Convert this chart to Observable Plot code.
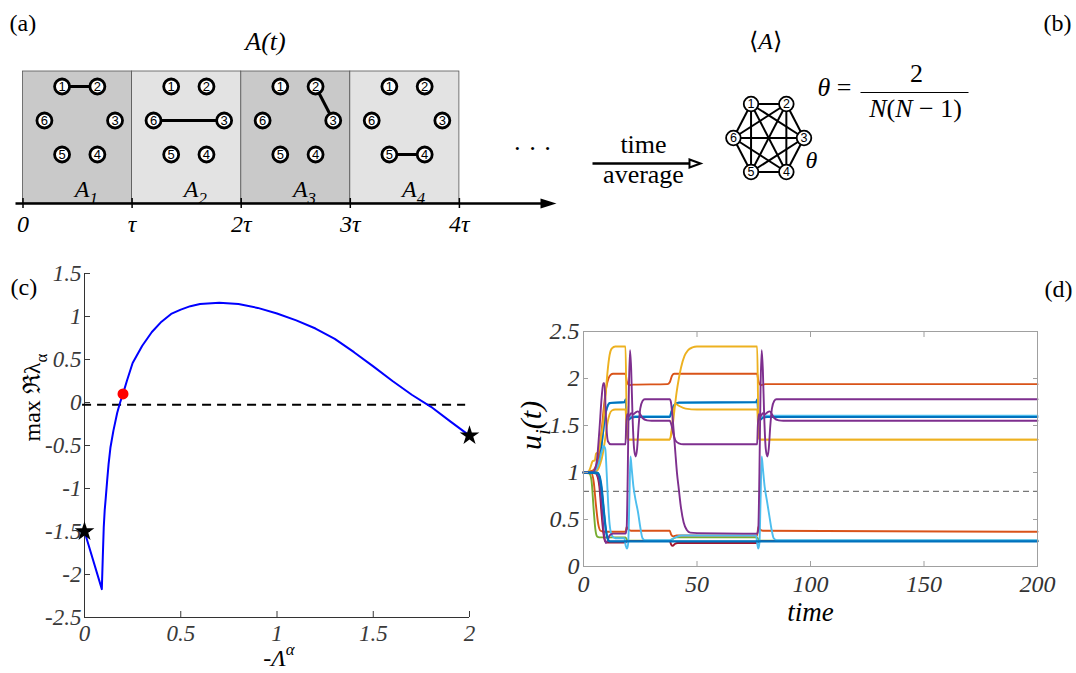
<!DOCTYPE html>
<html><head><meta charset="utf-8">
<script src="https://cdn.jsdelivr.net/npm/d3@7"></script>
<script src="https://cdn.jsdelivr.net/npm/@observablehq/plot@0.6"></script>
<style>
body{margin:0;background:#fff;}
#fig{position:relative;width:1076px;height:673px;overflow:hidden;background:#fff;font-family:"Liberation Serif",serif;}
#fig > div{position:absolute;}
#top{left:0;top:0;} #pc{left:0;top:250px;} #pd{left:500px;top:250px;}
</style></head><body>
<div id="fig"><div id="top"></div><div id="pc"></div><div id="pd"></div></div>
<script>
const SERIF = "Liberation Serif";
const SANS = "Liberation Sans";
const TF = {fontFamily: SERIF};

// ---------- data: panels (a) and (b)
const tauTicks = [0, 1, 2, 3, 4];
const tauLabels = ["0", "τ", "2τ", "3τ", "4τ"];
const snapshotNames = ["A_{1}", "A_{2}", "A_{3}", "A_{4}"];
const snapshotEdges = [[1, 2], [6, 3], [2, 3], [5, 4]];
const nodeIds = [1, 2, 3, 4, 5, 6];
const nodeAngles = [120, 60, 0, -60, -120, 180];

// ---------- data: panel (c)
const lamX = [0, 0.09, 0.095, 0.1, 0.105, 0.11, 0.118, 0.125, 0.135, 0.15, 0.17, 0.185, 0.2, 0.22, 0.25, 0.3, 0.35, 0.4, 0.45, 0.5, 0.55, 0.6, 0.7, 0.8, 0.9, 1.0, 1.1, 1.2, 1.3, 1.4, 1.5, 1.6, 1.7, 1.8, 1.9, 2.0];
const lamY = [-1.5, -2.17, -1.8, -1.45, -1.25, -1.12, -0.9, -0.72, -0.52, -0.33, -0.12, 0.0, 0.1, 0.25, 0.46, 0.66, 0.82, 0.94, 1.03, 1.08, 1.12, 1.145, 1.16, 1.145, 1.1, 1.035, 0.955, 0.86, 0.74, 0.585, 0.42, 0.25, 0.09, -0.05, -0.22, -0.385];
const cStarX = [0, 2], cStarY = [-1.5, -0.385];
const cRedX = [0.2], cRedY = [0.1];
const cZeroY = -0.025, cZeroX = [-0.01, 1.98];
const cTicksX = [0, 0.5, 1, 1.5, 2];
const cTicksY = [-2.5, -2, -1.5, -1, -0.5, 0, 0.5, 1, 1.5];

// ---------- data: panel (d)  [time, u_i]
const dTicksX = [0, 50, 100, 150, 200];
const dTicksY = [0, 0.5, 1, 1.5, 2, 2.5];
const dThreshold = 0.8;
const yellow1 = [[0,1],[2,1.0],[3,1.05],[4,1.12],[5,1.13],[5.5,1.2],[6.5,1.22],[7.5,1.35],[8.5,1.5],[9.5,1.75],[10.5,2.05],[11.5,2.25],[12.5,2.32],[14,2.34],[18.5,2.34],[19,1.6],[19.4,1.36],[20,1.35],[38,1.35],[39,1.45],[40,1.65],[41,1.85],[42,2.0],[43,2.12],[44.5,2.24],[46,2.3],[48,2.33],[50,2.34],[76.5,2.34],[77,1.6],[77.4,1.36],[78,1.35],[200,1.35]];
const yellow2 = [[0,1],[4,1.0],[6,1.02],[7.5,1.1],[8.5,1.2],[9.5,1.35],[10.5,1.52],[11.5,1.62],[12.5,1.66],[14,1.67],[18.5,1.67],[19,1.45],[19.5,1.36],[20,1.35],[38,1.35],[38.8,1.45],[39.5,1.62],[40.5,1.73],[42,1.71],[45,1.68],[50,1.67],[76.5,1.67],[77,1.45],[77.5,1.36],[78,1.35],[200,1.35]];
const orange1 = [[0,1],[4,1.02],[6,1.1],[7,1.25],[8,1.45],[9,1.7],[10,1.9],[11,2.0],[12,2.04],[13,2.05],[18.5,2.05],[19,1.98],[20,1.93],[22,1.935],[37,1.94],[38,1.96],[39,2.03],[40,2.05],[76.5,2.05],[77,1.98],[78,1.93],[80,1.94],[200,1.94]];
const blue1 = [[0,1],[5,1.02],[6.5,1.08],[7.5,1.2],[8.5,1.4],[9.5,1.6],[10.5,1.7],[11.5,1.74],[18,1.75],[18.6,1.78],[19,1.6],[19.8,1.56],[21,1.58],[23,1.59],[38,1.59],[38.8,1.65],[40,1.72],[42,1.745],[76,1.75],[76.6,1.78],[77,1.6],[77.8,1.56],[79,1.58],[81,1.59],[200,1.59]];
const cyan2 = [[0,1],[5,1.02],[6,1.05],[7,1.12],[8,1.3],[9,1.5],[10,1.65],[11,1.72],[12,1.74],[18,1.745],[18.6,1.77],[19,1.62],[19.8,1.58],[21,1.595],[23,1.6],[38,1.6],[38.8,1.66],[40,1.72],[42,1.74],[76,1.745],[76.6,1.77],[77,1.62],[77.8,1.58],[79,1.595],[81,1.605],[200,1.605]];
const purple1 = [[0,1],[4,1.0],[5,1.03],[6,1.15],[7,1.45],[8,1.8],[8.7,1.95],[9.2,1.95],[9.7,1.7],[10.2,1.45],[10.8,1.33],[12,1.3],[18.5,1.3],[18.8,1.5],[19.2,1.62],[20,1.6],[21,1.63],[22,1.62],[23,1.64],[24,1.65],[25,1.62],[26,1.58],[28,1.555],[30,1.55],[38,1.55],[38.8,1.5],[39.5,1.42],[40.5,1.34],[42,1.31],[44,1.3],[76.5,1.3],[76.8,1.5],[77.2,1.62],[78,1.6],[79,1.63],[80,1.62],[81,1.64],[82,1.65],[83,1.62],[84,1.58],[86,1.555],[88,1.55],[200,1.55]];
const purple2 = [[0,1],[5,1.0],[6,0.98],[7,0.9],[8,0.65],[9,0.35],[9.8,0.25],[10.5,0.27],[11.5,0.33],[13,0.35],[18.5,0.35],[19,0.4],[19.5,1.0],[20,1.9],[20.5,2.3],[21,2.1],[21.6,1.6],[22.3,1.25],[23,1.17],[23.6,1.25],[24.3,1.5],[25,1.68],[26,1.76],[27,1.78],[38,1.78],[38.5,1.75],[39,1.65],[39.7,1.45],[40.5,1.2],[41.2,0.99],[42,0.82],[42.7,0.67],[44.1,0.47],[45.6,0.385],[47,0.36],[50,0.355],[76.5,0.35],[77,0.4],[77.5,1.0],[78,1.9],[78.5,2.3],[79,2.1],[79.6,1.6],[80.3,1.25],[81,1.17],[81.6,1.25],[82.3,1.5],[83,1.68],[84,1.76],[85,1.78],[200,1.78]];
const cyan1 = [[0,1],[4,1.0],[5,1.02],[6,1.05],[7,1.12],[8,1.22],[9,1.28],[9.6,1.25],[10.2,1.0],[10.8,0.7],[11.5,0.45],[12.5,0.33],[14,0.3],[18,0.3],[18.6,0.22],[19.2,0.19],[19.7,0.25],[20.2,0.7],[20.7,1.17],[21.2,1.05],[22,0.85],[23,0.7],[24,0.58],[25,0.42],[26,0.3],[27,0.28],[38,0.28],[39,0.29],[40.5,0.31],[43,0.33],[76,0.33],[76.5,0.25],[77,0.19],[77.5,0.25],[78,0.7],[78.5,1.17],[79,1.05],[79.8,0.85],[80.8,0.7],[81.8,0.55],[82.8,0.4],[83.8,0.3],[85,0.28],[200,0.28]];
const orange2 = [[0,1],[3.5,0.99],[4.5,0.9],[5.5,0.65],[6.5,0.45],[7.5,0.38],[9,0.37],[18.5,0.37],[19,0.42],[19.6,0.4],[21,0.38],[38,0.38],[38.6,0.34],[39.5,0.32],[41,0.33],[76.5,0.33],[77,0.42],[77.6,0.4],[79,0.38],[200,0.37]];
const green1 = [[0,1],[2.5,0.99],[3.5,0.92],[4.5,0.6],[5.2,0.4],[6,0.32],[7,0.31],[18.5,0.31],[19,0.29],[20,0.275],[38,0.275],[39,0.29],[41,0.31],[76.5,0.31],[77,0.29],[78,0.275],[200,0.275]];
const red1 = [[0,1],[5,1.0],[6,0.97],[7,0.85],[8,0.55],[8.8,0.35],[9.5,0.27],[10.5,0.255],[18.5,0.255],[19,0.27],[20,0.27],[38,0.27],[38.6,0.235],[39.3,0.22],[40.2,0.24],[41.5,0.25],[76.5,0.25],[77,0.26],[78,0.27],[200,0.27]];
const blue2 = [[0,1],[6,1.0],[7,0.97],[8,0.85],[9,0.6],[10,0.38],[10.8,0.29],[11.5,0.27],[200,0.27]];
const blue3 = [[0,1],[6.5,0.99],[7.5,0.9],[8.5,0.7],[9.5,0.45],[10.5,0.3],[11.5,0.265],[200,0.265]];

const MC = {blue:"#0072BD", orange:"#D95319", yellow:"#EDB120", purple:"#7E2F8E", green:"#77AC30", cyan:"#4DBEEE", red:"#A2142F"};
const dSeries = [
  [cyan2, MC.cyan], [blue1, MC.blue], [orange1, MC.orange], [yellow2, MC.yellow], [yellow1, MC.yellow],
  [green1, MC.green], [orange2, MC.orange], [red1, MC.red], [cyan1, MC.cyan],
  [purple1, MC.purple], [purple2, MC.purple], [blue3, MC.blue], [blue2, MC.blue]
];

// ---------- helpers
function richify(root) {
  root.querySelectorAll("text").forEach(t => {
    const s = t.textContent;
    if (!/[_^*]\{/.test(s)) return;
    const fs = parseFloat(getComputedStyle(t).fontSize) || 20;
    while (t.firstChild) t.removeChild(t.firstChild);
    let shift = 0;
    const add = (str, kind) => {
      const sp = document.createElementNS("http://www.w3.org/2000/svg", "tspan");
      sp.textContent = str;
      const target = kind === "_" ? fs * 0.28 : kind === "^" ? -fs * 0.42 : 0;
      if (target !== shift) sp.setAttribute("dy", target - shift);
      shift = target;
      if (kind === "_" || kind === "^") sp.setAttribute("font-size", fs * 0.7);
      if (kind === "*") sp.setAttribute("font-style", "italic");
      t.appendChild(sp);
    };
    const re = /([_^*])\{([^}]*)\}/g;
    let last = 0, m;
    while ((m = re.exec(s))) {
      if (m.index > last) add(s.slice(last, m.index), null);
      add(m[2], m[1]);
      last = re.lastIndex;
    }
    if (last < s.length) add(s.slice(last), null);
  });
}
const headSymbol = (len, half) => ({draw(ctx) { ctx.moveTo(0, 0); ctx.lineTo(-len, -half); ctx.lineTo(-len, half); ctx.closePath(); }});

// ---------- top diagram: x in units of tau
const T0 = 22.5, TAU = 109.1;
const X = px => (px - T0) / TAU;
const HEX_RX = 35.3 / TAU, HEX_RY = 34;
function hexPos(id, cx, cy) {
  const a = nodeAngles[id - 1] * Math.PI / 180;
  return {id, x: cx + Math.cos(a) * HEX_RX, y: cy - Math.sin(a) / Math.sin(Math.PI / 3) * HEX_RY};
}
const ROW_Y = 120, BOX_TOP = 71, AXIS_Y = 203;
const nodesA = snapshotNames.flatMap((s, k) => nodeIds.map(id => hexPos(id, k + 0.52, ROW_Y)));
const edgesA = snapshotEdges.map(([a, b], k) => ({p: hexPos(a, k + 0.52, ROW_Y), q: hexPos(b, k + 0.52, ROW_Y)}));
const GB_X = X(768.2), GB_Y = 137.5;
const nodesB = nodeIds.map(id => hexPos(id, GB_X, GB_Y));
const edgesB = [];
nodeIds.forEach(a => nodeIds.forEach(b => { if (a < b) edgesB.push({p: hexPos(a, GB_X, GB_Y), q: hexPos(b, GB_X, GB_Y)}); }));
const boxes = snapshotNames.map((name, k) => ({name, k}));

const label = (txt, x, y, o = {}) => Plot.text([txt], {x: () => x, y: () => y, text: d => d, fontSize: 24, fill: "black", ...TF, ...o});

const topPlot = Plot.plot({
  width: 1076, height: 240, margin: 0,
  x: {domain: [X(0), X(1076)], range: [0, 1076], axis: null},
  y: {domain: [0, 240], range: [0, 240], axis: null},
  style: {fontFamily: SERIF, background: "transparent", overflow: "visible"},
  marks: [
    Plot.rect(boxes.filter(b => b.k % 2 === 0), {x1: "k", x2: b => b.k + 1, y1: () => BOX_TOP, y2: () => AXIS_Y, fill: "#c9c9c9", stroke: "#555", strokeWidth: 0.8}),
    Plot.rect(boxes.filter(b => b.k % 2 === 1), {x1: "k", x2: b => b.k + 1, y1: () => BOX_TOP, y2: () => AXIS_Y, fill: "#e3e3e3", stroke: "#555", strokeWidth: 0.8}),
    Plot.link(edgesA, {x1: d => d.p.x, y1: d => d.p.y, x2: d => d.q.x, y2: d => d.q.y, stroke: "black", strokeWidth: 3}),
    Plot.dot(nodesA, {x: "x", y: "y", r: 7.5, fill: "white", stroke: "black", strokeWidth: 2.8}),
    Plot.text(nodesA, {x: "x", y: "y", text: d => String(d.id), fontSize: 13, fontFamily: SANS, fill: "black"}),
    Plot.text(boxes, {x: b => b.k + 0.58, y: () => 189, text: "name", fontSize: 24, fontStyle: "italic", fill: "black", ...TF}),
    Plot.link([0], {x1: () => X(15), x2: () => X(546), y1: () => AXIS_Y, y2: () => AXIS_Y, stroke: "black", strokeWidth: 2.5}),
    Plot.dot([0], {x: () => X(556), y: () => AXIS_Y, symbol: headSymbol(16, 5), fill: "black", stroke: "none"}),
    Plot.ruleX(tauTicks, {x: d => d, y1: () => AXIS_Y - 5, y2: () => AXIS_Y + 5, stroke: "black", strokeWidth: 1.5}),
    Plot.text(tauTicks, {x: d => d, y: () => 224, text: (d, i) => tauLabels[i], fontSize: 24, fontStyle: "italic", fill: "black", ...TF}),
    label("· · ·", X(532), 148, {fontSize: 26}),
    label("(a)", X(9), 23, {textAnchor: "start"}),
    label("A(t)", X(265), 41, {fontSize: 26, fontStyle: "italic"}),
    // time average arrow
    Plot.link([0], {x1: () => X(592), x2: () => X(690), y1: () => 163, y2: () => 163, stroke: "black", strokeWidth: 2.5}),
    Plot.dot([0], {x: () => X(700), y: () => 163, symbol: headSymbol(11, 4), fill: "white", stroke: "black", strokeWidth: 2}),
    label("time", X(643), 144, {fontSize: 26}),
    label("average", X(643), 174, {fontSize: 26}),
    // complete averaged graph
    Plot.link(edgesB, {x1: d => d.p.x, y1: d => d.p.y, x2: d => d.q.x, y2: d => d.q.y, stroke: "black", strokeWidth: 2}),
    Plot.dot(nodesB, {x: "x", y: "y", r: 7.3, fill: "white", stroke: "black", strokeWidth: 1.8}),
    Plot.text(nodesB, {x: "x", y: "y", text: d => String(d.id), fontSize: 12.5, fontFamily: SANS, fill: "black"}),
    label("θ", X(805), 160, {fontStyle: "italic", textAnchor: "start"}),
    label("⟨*{A}⟩", X(765), 41),
    label("*{θ} =", X(817), 87, {textAnchor: "start", fontSize: 26}),
    label("2", X(916), 73, {fontSize: 26}),
    Plot.link([0], {x1: () => X(860), x2: () => X(968), y1: () => 92, y2: () => 92, stroke: "black", strokeWidth: 1.1}),
    label("*{N}(*{N} − 1)", X(915), 108, {fontSize: 26}),
    label("(b)", X(1071), 23, {textAnchor: "end"})
  ]
});

// ---------- panel (c)
const fmt = d => String(d);
const cCurve = lamX.map((x, i) => ({x, y: lamY[i]}));
const pc = Plot.plot({
  width: 500, height: 423,
  marginLeft: 84, marginRight: 31, marginTop: 23, marginBottom: 56,
  x: {domain: [0, 2]},
  y: {domain: [-2.5, 1.5]},
  style: {fontFamily: SERIF, background: "transparent", overflow: "visible"},
  marks: [
    Plot.axisX({ticks: cTicksX, tickSize: -6, tickPadding: 13, tickFormat: fmt, fontSize: 23, fontStyle: "italic", color: "#3a3a3a", label: null, ...TF}),
    Plot.axisY({ticks: cTicksY, tickSize: -6, tickPadding: 9, tickFormat: fmt, fontSize: 23, fontStyle: "italic", color: "#3a3a3a", label: null, ...TF}),
    Plot.ruleX([0], {y1: -2.5, y2: 1.5, stroke: "#333"}),
    Plot.ruleY([-2.5], {x1: 0, x2: 2, stroke: "#333"}),
    Plot.ruleY([cZeroY], {x1: cZeroX[0], x2: cZeroX[1], stroke: "black", strokeWidth: 2, strokeDasharray: "9,6"}),
    Plot.line(cCurve, {x: "x", y: "y", stroke: "#0000ff", strokeWidth: 2}),
    Plot.dot(cRedX.map((x, i) => ({x, y: cRedY[i]})), {x: "x", y: "y", r: 5.5, fill: "#ff0000"}),
    Plot.dot(cStarX.map((x, i) => ({x, y: cStarY[i]})), {x: "x", y: "y", symbol: "star", r: 6.2, fill: "black"}),
    Plot.text(["(c)"], {text: d => d, frameAnchor: "top-left", dx: -74, dy: 4, textAnchor: "start", fontSize: 24, fill: "black", ...TF}),
    Plot.text(["max ℜλ_{α}"], {text: d => d, frameAnchor: "left", dx: -52, dy: -4, rotate: -90, fontSize: 24, fill: "black", ...TF}),
    Plot.text(["-Λ^{α}"], {text: d => d, frameAnchor: "bottom", dx: 2, dy: 48, fontSize: 24, fontStyle: "italic", fill: "black", ...TF})
  ]
});

// ---------- panel (d)
const pd = Plot.plot({
  width: 576, height: 423,
  marginLeft: 83, marginRight: 39, marginTop: 81, marginBottom: 107,
  x: {domain: [0, 200]},
  y: {domain: [0, 2.5]},
  style: {fontFamily: SERIF, background: "transparent", overflow: "visible"},
  marks: [
    Plot.ruleY([dThreshold], {stroke: "#555", strokeWidth: 1, strokeDasharray: "6,4"}),
    ...dSeries.map(([pts, color]) => Plot.line(pts, {x: d => d[0], y: d => d[1], stroke: color, strokeWidth: 1.9, curve: "monotone-x"})),
    Plot.frame({stroke: "#a0a0a0"}),
    Plot.axisX({ticks: dTicksX, tickSize: -5, tickPadding: 13, tickFormat: fmt, fontSize: 24, fontStyle: "italic", color: "#333", stroke: "#a0a0a0", label: null, ...TF}),
    Plot.axisX({anchor: "top", ticks: dTicksX, tickSize: -5, tickFormat: () => "", stroke: "#a0a0a0", label: null}),
    Plot.axisY({ticks: dTicksY, tickSize: -5, tickPadding: 9, tickFormat: fmt, fontSize: 24, fontStyle: "italic", color: "#333", stroke: "#a0a0a0", label: null, ...TF}),
    Plot.axisY({anchor: "right", ticks: dTicksY, tickSize: -5, tickFormat: () => "", stroke: "#a0a0a0", label: null}),
    Plot.text(["(d)"], {text: d => d, frameAnchor: "top-right", dx: 35, dy: -52, textAnchor: "end", fontSize: 24, fill: "black", ...TF}),
    Plot.text(["u_{i}(t)"], {text: d => d, frameAnchor: "left", dx: -52, dy: 1, rotate: -90, fontSize: 30, fontStyle: "italic", fill: "black", ...TF}),
    Plot.text(["time"], {text: d => d, frameAnchor: "bottom", dy: 54, fontSize: 27, fontStyle: "italic", fill: "black", ...TF})
  ]
});

document.getElementById("top").appendChild(topPlot);
document.getElementById("pc").appendChild(pc);
document.getElementById("pd").appendChild(pd);
[topPlot, pc, pd].forEach(richify);
</script></body></html>
